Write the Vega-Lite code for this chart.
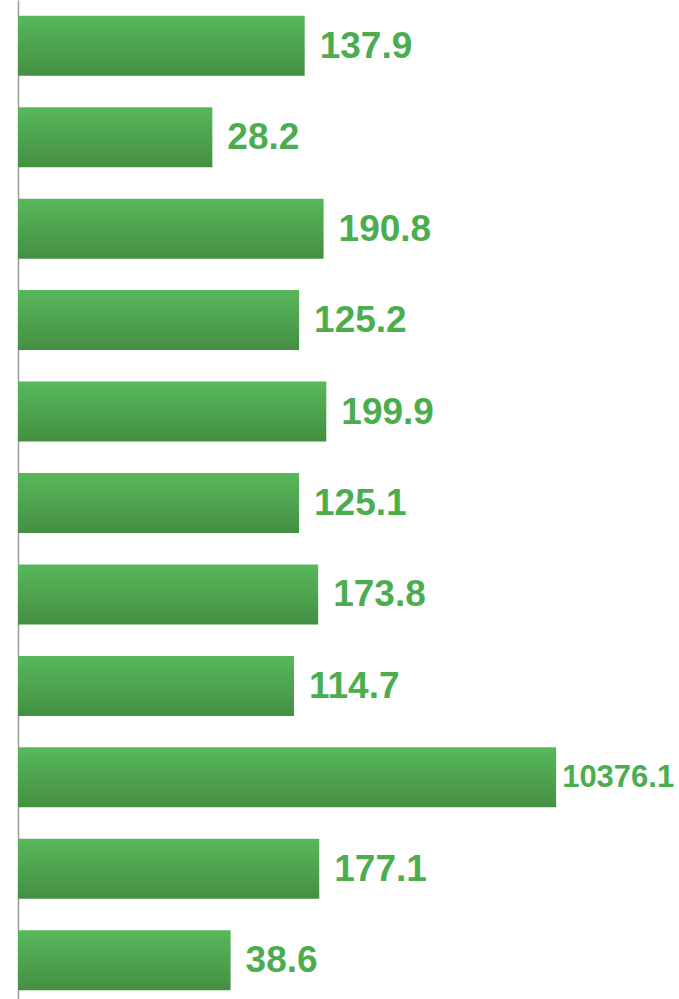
{
  "$schema": "https://vega.github.io/schema/vega-lite/v6.json",
  "width": 657,
  "height": 1006,
  "autosize": {"type": "none"},
  "padding": {"left": 18, "top": 0, "right": 0, "bottom": 0},
  "background": "white",
  "config": {"view": {"stroke": null}},
  "data": {
    "values": [
      {"item": "1", "value": 137.9},
      {"item": "2", "value": 28.2},
      {"item": "3", "value": 190.8},
      {"item": "4", "value": 125.2},
      {"item": "5", "value": 199.9},
      {"item": "6", "value": 125.1},
      {"item": "7", "value": 173.8},
      {"item": "8", "value": 114.7},
      {"item": "9", "value": 10376.1},
      {"item": "10", "value": 177.1},
      {"item": "11", "value": 38.6}
    ]
  },
  "encoding": {
    "y": {
      "field": "item",
      "type": "nominal",
      "sort": null,
      "scale": {"paddingInner": 0.344, "paddingOuter": 0.172},
      "axis": {"labels": false, "ticks": false, "title": null, "grid": false, "domainColor": "#9a9a9a", "domainWidth": 1.5}
    },
    "x": {
      "field": "value",
      "type": "quantitative",
      "scale": {"type": "log", "domain": [1, 80000], "nice": false},
      "axis": null
    }
  },
  "layer": [
    {
      "mark": {
        "type": "bar",
        "color": {
          "gradient": "linear",
          "x1": 0, "y1": 0, "x2": 0, "y2": 1,
          "stops": [
            {"offset": 0, "color": "#58b85b"},
            {"offset": 1, "color": "#448f42"}
          ]
        }
      },
      "encoding": {"x2": {"datum": 1}}
    },
    {
      "transform": [{"filter": "datum.value < 10000"}],
      "mark": {"type": "text", "align": "left", "baseline": "middle", "dx": 15, "dy": 1, "font": "Liberation Sans", "fontWeight": "bold", "fontSize": 37, "color": "#4cad4f"},
      "encoding": {"text": {"field": "value", "type": "quantitative", "format": ".1f"}}
    },
    {
      "transform": [{"filter": "datum.value >= 10000"}],
      "mark": {"type": "text", "align": "left", "baseline": "middle", "dx": 6, "dy": 1, "font": "Liberation Sans", "fontWeight": "bold", "fontSize": 31, "color": "#4cad4f"},
      "encoding": {"text": {"field": "value", "type": "quantitative", "format": ".1f"}}
    }
  ]
}
